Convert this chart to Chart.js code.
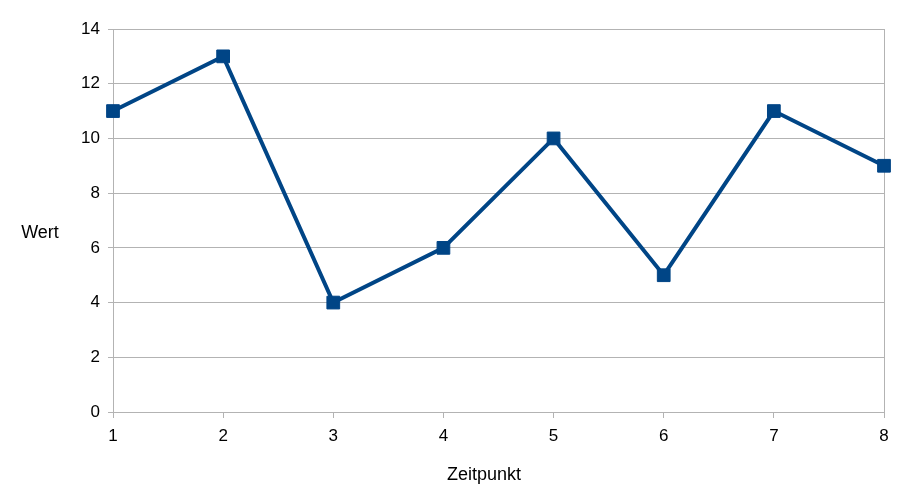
<!DOCTYPE html>
<html>
<head>
<meta charset="utf-8">
<script src="https://cdn.jsdelivr.net/npm/chart.js@4"></script>
<style>
  html, body { margin: 0; padding: 0; background: #fff; }
  #wrap { width: 913px; height: 498px; }
</style>
</head>
<body>
<div id="wrap"><canvas id="myChart" width="913" height="498"></canvas></div>
<script>
const zeitpunkte = ['1', '2', '3', '4', '5', '6', '7', '8'];
const werte = [11, 13, 4, 6, 10, 5, 11, 9];
const yTitle = 'Wert';
const xTitle = 'Zeitpunkt';

const gridGray = '#b3b3b3';
const lineBlue = '#004586';
const fontFam = '"Liberation Sans", Arial, sans-serif';

// axis titles: LibreOffice style, "Wert" is not rotated
const titlePlugin = {
    id: 'axisTitles',
    afterDraw(chart) {
        const c = chart.ctx;
        c.save();
        c.fillStyle = '#000';
        c.font = '18px ' + fontFam;
        c.textAlign = 'center';
        c.textBaseline = 'middle';
        c.fillText(yTitle, 40, 233);
        c.fillText(xTitle, 484, 475);
        c.restore();
    }
};

const ctx = document.getElementById('myChart').getContext('2d');
const myChart = new Chart(ctx, {
    type: 'line',
    data: {
        labels: zeitpunkte,
        datasets: [{
            label: yTitle,
            data: werte,
            borderColor: lineBlue,
            backgroundColor: lineBlue,
            borderWidth: 4,
            pointStyle: 'rect',
            pointRadius: 9,
            pointBorderWidth: 1,
            pointBorderColor: lineBlue,
            pointBackgroundColor: lineBlue,
            tension: 0
        }]
    },
    plugins: [titlePlugin],
    options: {
        responsive: false,
        animation: false,
        layout: { padding: { top: 29, right: 29, left: 0, bottom: 0 } },
        plugins: {
            legend: { display: false },
            tooltip: { enabled: false }
        },
        scales: {
            x: {
                offset: false,
                grid: {
                    color: (c) => (c.index === zeitpunkte.length - 1 ? gridGray : 'rgba(0,0,0,0)'),
                    tickColor: gridGray,
                    tickLength: 6,
                    drawOnChartArea: true
                },
                border: { display: true, color: gridGray },
                ticks: {
                    color: '#000',
                    font: { family: fontFam, size: 17 },
                    padding: 8,
                    maxRotation: 0
                },
                afterFit(scale) { scale.height = 86; }
            },
            y: {
                min: 0,
                max: 14,
                grid: {
                    color: gridGray,
                    tickColor: gridGray,
                    tickLength: 5
                },
                border: { display: true, color: gridGray },
                ticks: {
                    stepSize: 2,
                    color: '#000',
                    font: { family: fontFam, size: 17 },
                    padding: 8
                },
                afterFit(scale) { scale.width = 113; }
            }
        }
    }
});
</script>
</body>
</html>
